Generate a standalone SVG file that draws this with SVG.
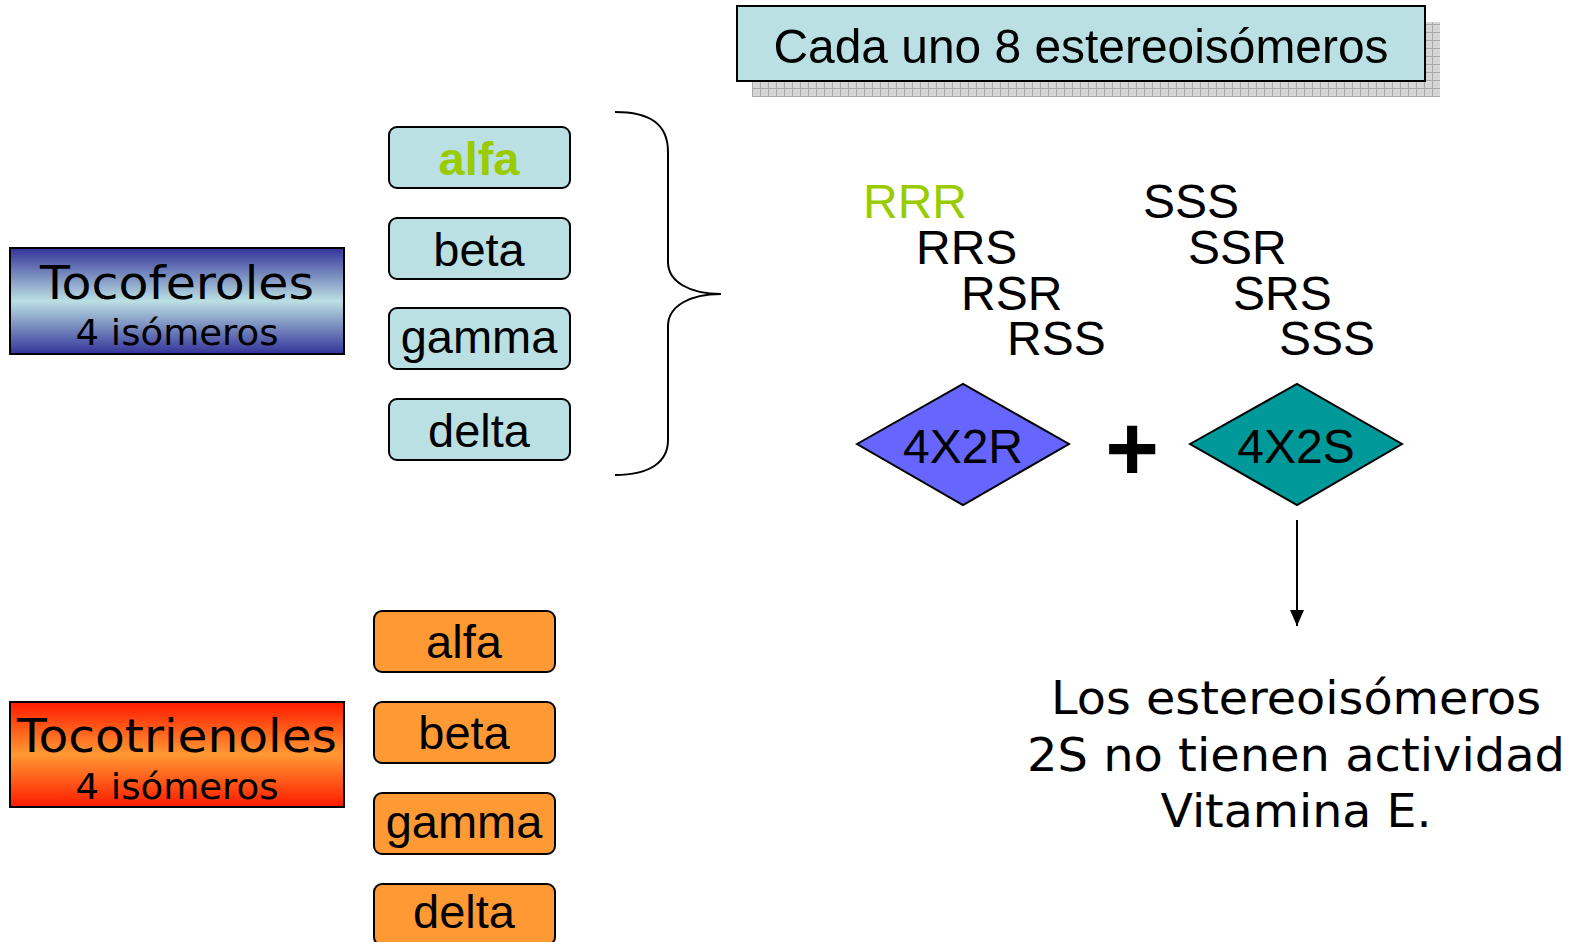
<svg xmlns="http://www.w3.org/2000/svg" width="1576" height="942" viewBox="0 0 1576 942">
<defs>
<linearGradient id="gBlue" x1="0" y1="0" x2="0" y2="1">
<stop offset="0" stop-color="#333399"/>
<stop offset="0.5" stop-color="#bbe0e3"/>
<stop offset="1" stop-color="#333399"/>
</linearGradient>
<linearGradient id="gRed" x1="0" y1="0" x2="0" y2="1">
<stop offset="0" stop-color="#ff1a00"/>
<stop offset="0.5" stop-color="#ff9933"/>
<stop offset="1" stop-color="#ff1a00"/>
</linearGradient>
<pattern id="grid" width="8" height="8" patternUnits="userSpaceOnUse">
<rect width="8" height="8" fill="#d6d6d6"/>
<path d="M0 0.5H8M0.5 0V8" stroke="#a9a9a9" stroke-width="1" fill="none"/>
</pattern>
<marker id="arr" markerWidth="16" markerHeight="14" refX="16" refY="7" orient="auto" markerUnits="userSpaceOnUse" viewBox="0 0 16 14">
<path d="M0 0L16 7L0 14Z" fill="#000"/>
</marker>
</defs>
<style>
.tbox{fill:#bbe0e3;stroke:#000;stroke-width:2}
.obox{fill:#ff9933;stroke:#000;stroke-width:2}
.ar{font-family:"Liberation Sans",Arial,sans-serif;fill:#000}
.dv{font-family:"DejaVu Sans","Liberation Sans",sans-serif;fill:#000}
.lbl{font-size:47px;text-anchor:middle}
.st{font-size:48px}
.line{fill:none;stroke:#000;stroke-width:2}
</style>
<rect width="1576" height="942" fill="#fff"/>

<g id="title">
<rect x="752" y="22" width="688" height="75" fill="url(#grid)"/>
<rect x="737" y="6" width="688" height="75" class="tbox"/>
<text x="1081" y="63" class="ar" font-size="49" text-anchor="middle" textLength="615" lengthAdjust="spacingAndGlyphs">Cada uno 8 estereoisómeros</text>
</g>

<g id="tocoferoles">
<rect x="10" y="248" width="334" height="106" fill="url(#gBlue)" stroke="#000" stroke-width="2"/>
<text x="177" y="299" class="dv" font-size="47" text-anchor="middle" textLength="274" lengthAdjust="spacingAndGlyphs">Tocoferoles</text>
<text x="177" y="345" class="dv" font-size="36" text-anchor="middle" textLength="203" lengthAdjust="spacingAndGlyphs">4 isómeros</text>
</g>

<g id="tocotrienoles">
<rect x="10" y="702" width="334" height="105" fill="url(#gRed)" stroke="#000" stroke-width="2"/>
<text x="177" y="752" class="dv" font-size="47" text-anchor="middle" textLength="320" lengthAdjust="spacingAndGlyphs">Tocotrienoles</text>
<text x="177" y="799" class="dv" font-size="36" text-anchor="middle" textLength="203" lengthAdjust="spacingAndGlyphs">4 isómeros</text>
</g>

<g id="tf-alfa"><rect x="389" y="127" width="181" height="61" rx="8" class="tbox"/><text x="479" y="175" class="ar lbl" font-weight="bold" style="fill:#99cc00">alfa</text></g>
<g id="tf-beta"><rect x="389" y="218" width="181" height="61" rx="8" class="tbox"/><text x="479" y="266" class="ar lbl">beta</text></g>
<g id="tf-gamma"><rect x="389" y="308" width="181" height="61" rx="8" class="tbox"/><text x="479" y="353" class="ar lbl">gamma</text></g>
<g id="tf-delta"><rect x="389" y="399" width="181" height="61" rx="8" class="tbox"/><text x="479" y="447" class="ar lbl">delta</text></g>

<g id="tt-alfa"><rect x="374" y="611" width="181" height="61" rx="8" class="obox"/><text x="464" y="658" class="ar lbl">alfa</text></g>
<g id="tt-beta"><rect x="374" y="702" width="181" height="61" rx="8" class="obox"/><text x="464" y="749" class="ar lbl">beta</text></g>
<g id="tt-gamma"><rect x="374" y="793" width="181" height="61" rx="8" class="obox"/><text x="464" y="838" class="ar lbl">gamma</text></g>
<g id="tt-delta"><rect x="374" y="884" width="181" height="61" rx="8" class="obox"/><text x="464" y="928" class="ar lbl">delta</text></g>

<g id="stereo-r">
<text x="863" y="218" class="ar st" style="fill:#99cc00">RRR</text>
<text x="916" y="264" class="ar st">RRS</text>
<text x="961" y="310" class="ar st">RSR</text>
<text x="1007" y="355" class="ar st">RSS</text>
</g>
<g id="stereo-s">
<text x="1143" y="218" class="ar st">SSS</text>
<text x="1188" y="264" class="ar st">SSR</text>
<text x="1233" y="310" class="ar st">SRS</text>
<text x="1279" y="355" class="ar st">SSS</text>
</g>

<g id="d-4x2r">
<polygon points="857,444 963,384 1069,444 963,505" fill="#6666ff" stroke="#000" stroke-width="2"/>
<text x="963" y="463" class="ar" font-size="48" text-anchor="middle">4X2R</text>
</g>
<g id="plus">
<text x="1132" y="480" class="ar" font-size="92" font-weight="bold" text-anchor="middle">+</text>
</g>
<g id="d-4x2s">
<polygon points="1190,444 1297,384 1402,444 1297,505" fill="#009999" stroke="#000" stroke-width="2"/>
<text x="1296" y="463" class="ar" font-size="48" text-anchor="middle">4X2S</text>
</g>

<g id="note">
<text x="1296" y="714" class="dv" font-size="47" text-anchor="middle" textLength="490" lengthAdjust="spacingAndGlyphs">Los estereoisómeros</text>
<text x="1296" y="771" class="dv" font-size="47" text-anchor="middle" textLength="538" lengthAdjust="spacingAndGlyphs">2S no tienen actividad</text>
<text x="1296" y="827" class="dv" font-size="47" text-anchor="middle" textLength="271" lengthAdjust="spacingAndGlyphs">Vitamina E.</text>
</g>

<g id="connectors">
<path class="line" d="M615,112 C650,112 668,124 668,152 L668,262 C668,282 690,294 721,294 C690,294 668,306 668,326 L668,440 C668,462 650,475 615,475"/>
<line x1="1297" y1="520" x2="1297" y2="626" stroke="#000" stroke-width="2" marker-end="url(#arr)"/>
</g>
</svg>
